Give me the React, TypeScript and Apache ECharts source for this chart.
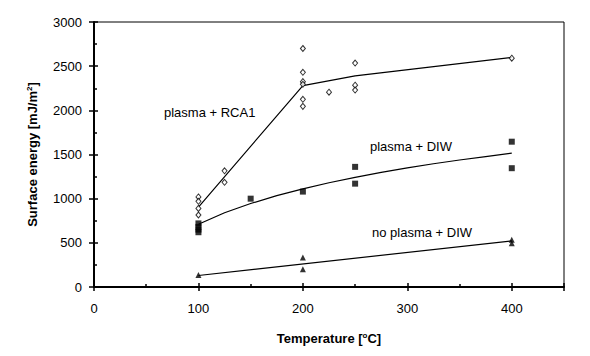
import React, { useEffect, useRef } from "react";
import * as echarts from "echarts";

// Measured points
const rcaT = [100, 100, 100, 100, 125, 125, 200, 200, 200, 200, 200, 200, 225, 250, 250, 250, 400];
const rcaE = [1020, 970, 890, 815, 1315, 1185, 2700, 2430, 2325, 2295, 2125, 2045, 2205, 2535, 2285, 2230, 2590];
const diwT = [100, 100, 100, 100, 150, 200, 250, 250, 400, 400];
const diwE = [720, 680, 650, 620, 1000, 1080, 1360, 1170, 1645, 1345];
const npT = [100, 200, 200, 400, 400];
const npE = [135, 335, 200, 535, 495];

// Fit curves
const rcaFitT = [100, 200, 250, 400];
const rcaFitE = [905, 2280, 2390, 2600];
const diwFitT = [100, 125, 150, 175, 200, 225, 250, 275, 300, 325, 350, 375, 400];
const diwFitE = [710, 840, 945, 1035, 1110, 1180, 1242, 1297, 1348, 1395, 1438, 1477, 1515];
const npFitT = [100, 400];
const npFitE = [130, 522];

const xTicks = [0, 100, 200, 300, 400];
const yTicks = [0, 500, 1000, 1500, 2000, 2500, 3000];

const labelTexts = ["plasma + RCA1", "plasma + DIW", "no plasma + DIW"];

const FONT = "'Liberation Sans', Arial, sans-serif";

const zip = (a: number[], b: number[]) => a.map((v, i) => [v, b[i]]);

export default function App() {
  const ref = useRef<HTMLDivElement>(null);
  useEffect(() => {
    if (!ref.current) return;
    const chart = echarts.init(ref.current, undefined, { renderer: "svg" });
    const xMin = xTicks[0];
    const yMin = yTicks[0];
    const yMax = yTicks[yTicks.length - 1];
    const baseX = {
      type: "value" as const,
      min: xMin,
      max: 450,
      interval: 100,
      position: "bottom" as const,
      splitLine: { show: false },
    };
    const baseY = {
      type: "value" as const,
      min: yMin,
      max: yMax,
      interval: 500,
      position: "left" as const,
      splitLine: { show: false },
    };
    const rich = {
      b: { fontFamily: FONT, fontSize: 13, fontWeight: "bold", color: "#000" },
      s: { fontFamily: FONT, fontSize: 8, fontWeight: "bold", color: "#000", padding: [0, 0, 7, 0] },
    };
    chart.setOption({
      animation: false,
      backgroundColor: "#fff",
      grid: {
        left: 94,
        right: 26,
        top: 22,
        bottom: 69,
        show: true,
        borderColor: "#000",
        borderWidth: 1,
        backgroundColor: "transparent",
      },
      xAxis: [
        {
          ...baseX,
          name: "{b|Temperature [}{s|o}{b|C]}",
          nameLocation: "middle",
          nameGap: 44,
          nameTextStyle: { rich },
          axisLine: { show: true, lineStyle: { color: "#000", width: 2 } },
          axisTick: { show: true, inside: true, length: 4, lineStyle: { color: "#000", width: 1.5 } },
          minorTick: { show: true, splitNumber: 2, length: 3, lineStyle: { color: "#000", width: 1.5 } },
          axisLabel: {
            show: true,
            margin: 15,
            showMaxLabel: false,
            color: "#000",
            fontFamily: FONT,
            fontSize: 13,
            formatter: (v: number) => String(v),
          },
        },
        {
          ...baseX,
          axisLine: { show: false },
          axisTick: { show: true, inside: false, length: 4, lineStyle: { color: "#000", width: 1.5 } },
          axisLabel: { show: false },
        },
      ],
      yAxis: [
        {
          ...baseY,
          name: "{b|Surface energy [mJ/m}{s|2}{b|]}",
          nameLocation: "middle",
          nameGap: 54,
          nameRotate: 90,
          nameTextStyle: { rich },
          axisLine: { show: true, lineStyle: { color: "#000", width: 2 } },
          axisTick: { show: true, inside: true, length: 4, lineStyle: { color: "#000", width: 1.5 } },
          minorTick: { show: true, splitNumber: 2, length: 3, lineStyle: { color: "#000", width: 1.5 } },
          axisLabel: {
            show: true,
            margin: 12,
            color: "#000",
            fontFamily: FONT,
            fontSize: 13,
            formatter: (v: number) => String(v),
          },
        },
        {
          ...baseY,
          axisLine: { show: false },
          axisTick: { show: true, inside: false, length: 5, lineStyle: { color: "#000", width: 1.5 } },
          axisLabel: { show: false },
        },
      ],
      series: [
        {
          type: "line",
          data: zip(rcaFitT, rcaFitE),
          showSymbol: false,
          symbol: "none",
          lineStyle: { color: "#000", width: 1.2 },
          z: 2,
        },
        {
          type: "line",
          data: zip(diwFitT, diwFitE),
          showSymbol: false,
          symbol: "none",
          lineStyle: { color: "#000", width: 1.2 },
          z: 2,
        },
        {
          type: "line",
          data: zip(npFitT, npFitE),
          showSymbol: false,
          symbol: "none",
          lineStyle: { color: "#000", width: 1.2 },
          z: 2,
        },
        {
          type: "scatter",
          data: zip(rcaT, rcaE),
          symbol: "diamond",
          symbolSize: [5, 6],
          itemStyle: { color: "#fff", borderColor: "#000", borderWidth: 1 },
          z: 3,
        },
        {
          type: "scatter",
          data: zip(diwT, diwE),
          symbol: "rect",
          symbolSize: 6,
          itemStyle: { color: "#000" },
          z: 3,
        },
        {
          type: "scatter",
          data: zip(npT, npE),
          symbol: "triangle",
          symbolSize: 6,
          itemStyle: { color: "#000" },
          z: 3,
        },
      ],
      graphic: [
        {
          type: "text",
          x: 164,
          y: 112,
          style: { text: labelTexts[0], fill: "#000", font: `13px ${FONT}`, textVerticalAlign: "middle" },
        },
        {
          type: "text",
          x: 370,
          y: 146,
          style: { text: labelTexts[1], fill: "#000", font: `13px ${FONT}`, textVerticalAlign: "middle" },
        },
        {
          type: "text",
          x: 372,
          y: 232,
          style: { text: labelTexts[2], fill: "#000", font: `13px ${FONT}`, textVerticalAlign: "middle" },
        },
      ],
    });
    return () => chart.dispose();
  }, []);
  return <div ref={ref} style={{ width: 590, height: 356, position: "absolute", left: 0, top: 0 }} />;
}
